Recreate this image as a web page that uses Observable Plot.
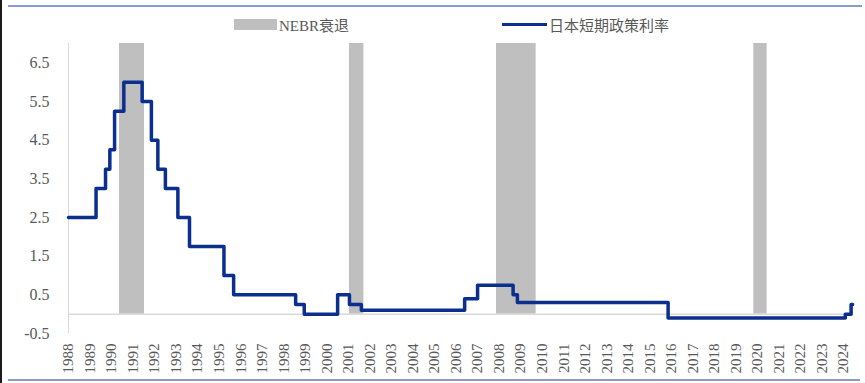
<!DOCTYPE html>
<html><head><meta charset="utf-8">
<script src="https://cdn.jsdelivr.net/npm/d3@7"></script>
<script src="https://cdn.jsdelivr.net/npm/@observablehq/plot@0.6"></script>
<style>
body{margin:0;background:#fff;}
#wrap{position:relative;width:865px;height:383px;overflow:hidden;background:#fff;font-family:"Liberation Serif","Noto Sans CJK SC",serif;}
#wrap svg{position:absolute;left:0;top:0;}
.edge-left{position:absolute;left:0;top:0;width:2px;height:383px;background:#1a1a1a;}
.edge-top{position:absolute;left:8px;top:5px;width:854px;height:2px;background:#8a9bcc;}
.edge-bot{position:absolute;left:8px;top:379px;width:852px;height:2px;background:#8a9bcc;}
.leg{position:absolute;top:14px;height:20px;display:flex;align-items:center;font-size:15px;color:#595959;white-space:nowrap;}
.sw-bar{width:43px;height:11px;background:#bfbfbf;margin-right:2px;}
.sw-line{width:45px;height:3px;background:#0b2f8e;margin-right:2px;}
</style></head><body>
<div id="wrap">
  <div class="leg" style="left:234px"><div class="sw-bar"></div><span>NEBR衰退</span></div>
  <div class="leg" style="left:502px"><div class="sw-line"></div><span>日本短期政策利率</span></div>
  <div class="edge-left"></div><div class="edge-top"></div><div class="edge-bot"></div>
</div>
<script>
// Japan short-term policy rate: change points (decimal year) and levels
const rateDates  = [1988.0, 1989.28, 1989.72, 1989.92, 1990.14, 1990.57, 1991.42, 1991.85, 1992.15, 1992.5, 1993.08, 1993.62, 1995.22, 1995.67, 1998.55, 1998.95, 2000.5, 2001.05, 2001.6, 2006.4, 2007.0, 2008.65, 2008.85, 2015.85, 2024.08, 2024.35, 2024.42];
const rateValues = [2.5, 3.25, 3.75, 4.25, 5.25, 6.0, 5.5, 4.5, 3.75, 3.25, 2.5, 1.75, 1.0, 0.5, 0.25, 0.0, 0.5, 0.25, 0.1, 0.4, 0.75, 0.5, 0.3, -0.1, 0.0, 0.25, 0.25];
// NBER recessions (as drawn)
const recessionStart = [1990.37, 2001.05, 2007.88, 2019.83];
const recessionEnd   = [1991.53, 2001.72, 2009.72, 2020.45];
const yTicks = [-0.5, 0.5, 1.5, 2.5, 3.5, 4.5, 5.5, 6.5];
const yearTicks = [1988,1989,1990,1991,1992,1993,1994,1995,1996,1997,1998,1999,2000,2001,2002,2003,2004,2005,2006,2007,2008,2009,2010,2011,2012,2013,2014,2015,2016,2017,2018,2019,2020,2021,2022,2023,2024];

const rates = rateDates.map((d, i) => ({date: d, value: rateValues[i]}));
const recessions = recessionStart.map((s, i) => ({start: s, end: recessionEnd[i]}));

const chart = Plot.plot({
  width: 865, height: 383,
  marginLeft: 68, marginRight: 9, marginTop: 43, marginBottom: 50,
  style: {fontFamily: '"Liberation Serif", serif', background: "transparent", overflow: "visible"},
  x: {domain: [1988, 2024.6], axis: null, label: null},
  y: {domain: [-0.5, 7], axis: null, label: null},
  marks: [
    Plot.rect(recessions, {x1: "start", x2: "end", y1: 0, y2: 7, fill: "#bfbfbf"}),
    Plot.ruleX([1988], {y1: -0.5, y2: 7, stroke: "#d9d9d9", strokeWidth: 1}),
    Plot.ruleY([0], {x1: 1988, x2: 2024.45, stroke: "#d9d9d9", strokeWidth: 1.5}),
    Plot.line(rates, {x: "date", y: "value", curve: "step-after", stroke: "#0b2f8e", strokeWidth: 3.5}),
    Plot.axisY(yTicks, {tickSize: 0, tickPadding: 19, fontSize: 16, color: "#595959", tickFormat: d => d.toFixed(1)}),
    Plot.axisX(yearTicks, {tickRotate: -90, tickSize: 0, tickPadding: 10, fontSize: 15, color: "#595959", tickFormat: d => String(d)})
  ]
});
document.getElementById("wrap").prepend(chart);
</script>
</body></html>
